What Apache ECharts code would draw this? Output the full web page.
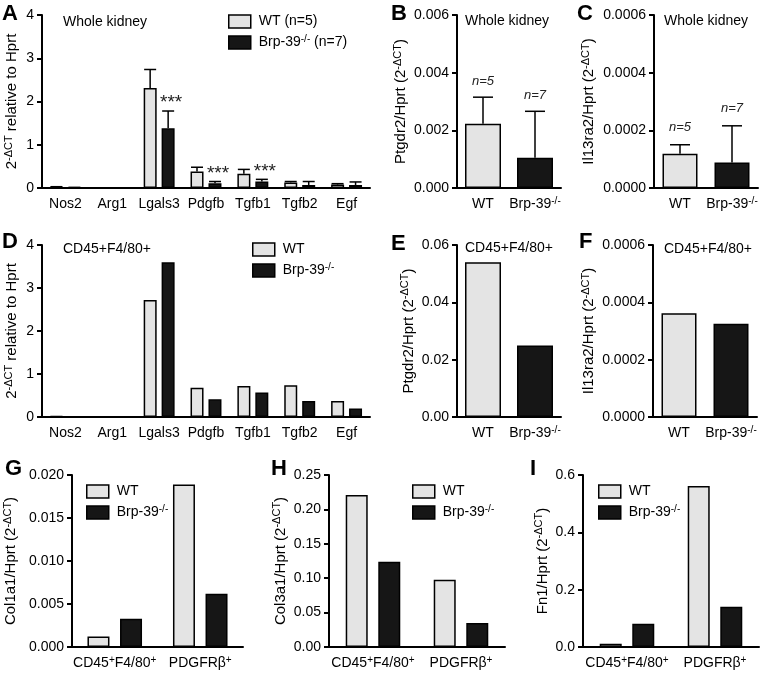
<!DOCTYPE html>
<html><head><meta charset="utf-8">
<script src="https://cdn.jsdelivr.net/npm/echarts@6/dist/echarts.min.js"></script>
<style>html,body{margin:0;padding:0;background:#fff}#c{width:762px;height:673px}</style>
</head><body><div id="c"></div>
<script>
// ---------- DATA ----------
const genes = ['Nos2','Arg1','Lgals3','Pdgfb','Tgfb1','Tgfb2','Egf'];
const A_wt    = [0.02, 0.004, 2.31, 0.38, 0.33, 0.13, 0.08];
const A_wt_sd = [0.01, 0.001, 0.43, 0.10, 0.10, 0.02, 0.02];
const A_ko    = [0.01, 0.003, 1.38, 0.11, 0.15, 0.07, 0.07];
const A_ko_sd = [0.005, 0.001, 0.40, 0.04, 0.05, 0.08, 0.07];
const A_sig   = ['', '', '***', '***', '***', '', ''];

const groups2 = ['WT', 'Brp-39^{-/-}'];
const B_vals = [0.00223, 0.00105];
const B_sd   = [0.00092, 0.00161];
const B_n    = ['n=5', 'n=7'];
const C_vals = [0.000119, 0.0000887];
const C_sd   = [0.000031, 0.000127];
const C_n    = ['n=5', 'n=7'];

const D_wt = [0.02, 0.003, 2.72, 0.68, 0.72, 0.74, 0.37];
const D_ko = [0.01, 0.002, 3.60, 0.41, 0.57, 0.37, 0.20];

const E_vals = [0.054, 0.0249];
const F_vals = [0.000362, 0.000325];

const cells = ['CD45^{+}F4/80^{+}', 'PDGFRβ^{+}'];
const G_wt = [0.00123, 0.0189];
const G_ko = [0.00328, 0.00619];
const H_wt = [0.221, 0.0977];
const H_ko = [0.124, 0.0348];
const I_wt = [0.0115, 0.562];
const I_ko = [0.081, 0.140];

const WT_NAME_A = 'WT (n=5)', KO_NAME_A = 'Brp-39^{-/-} (n=7)';
const WT_NAME = 'WT', KO_NAME = 'Brp-39^{-/-}';

// ---------- STYLE ----------
const FF = '"Liberation Sans", Arial, Helvetica, sans-serif';
const WT_C = '#e4e4e4', KO_C = '#161616';
const sup = s => s.replace(/\^\{([^}]*)\}/g, '{s|$1}');
const supRich = (fs) => ({ s: { fontSize: fs, fontFamily: FF, color: '#000', verticalAlign: 'top', lineHeight: 9 } });

const grids = [
  {left:42,  top:15,  width:328, height:173},
  {left:457, top:15,  width:104, height:173},
  {left:654, top:15,  width:104, height:173},
  {left:42,  top:245, width:328, height:172},
  {left:457, top:245, width:104, height:172},
  {left:653, top:245, width:104, height:172},
  {left:72,  top:475, width:171, height:172},
  {left:329, top:475, width:176, height:172},
  {left:583, top:475, width:176, height:172}
];

const lineS = {color:'#000', width:2};
function xAx(i, cats) {
  return {
    type:'category', gridIndex:i, data:cats,
    axisLine:{lineStyle:lineS}, axisTick:{alignWithLabel:true, length:5, lineStyle:lineS},
    axisLabel:{interval:0, color:'#000', fontSize:14, fontFamily:FF, margin:8, lineHeight:17,
      formatter: v => sup(v), rich: supRich(10)}
  };
}
function yAx(i, max, interval, dec, name, gap) {
  return {
    type:'value', gridIndex:i, min:0, max:max, interval:interval,
    splitLine:{show:false},
    axisLine:{show:true, lineStyle:lineS}, axisTick:{show:true, length:5, lineStyle:lineS},
    axisLabel:{color:'#000', fontSize:14, fontFamily:FF, margin:8, formatter: v => v.toFixed(dec)},
    name: sup(name), nameLocation:'middle', nameGap:gap, nameRotate:90,
    nameTextStyle:{color:'#000', fontSize:15, fontFamily:FF, lineHeight:18, rich: supRich(11)}
  };
}

const barStyle = c => ({color:c, borderColor:'#000', borderWidth:1.5});

function errSeries(gi, vals, sds, offset, capW, labels, labelFont, labelGap, labelDx) {
  return {
    type:'custom', xAxisIndex:gi, yAxisIndex:gi, z:5, silent:true,
    data: vals.map((v,i)=>[i, v, v + sds[i]]),
    renderItem: function(params, api) {
      const p0 = api.coord([api.value(0), api.value(1)]);
      const p1 = api.coord([api.value(0), api.value(2)]);
      const cx = p0[0] + offset;
      const ch = [
        {type:'line', shape:{x1:cx, y1:p0[1], x2:cx, y2:p1[1]}, style:{stroke:'#000', lineWidth:1.5}},
        {type:'line', shape:{x1:cx-capW/2, y1:p1[1], x2:cx+capW/2, y2:p1[1]}, style:{stroke:'#000', lineWidth:1.5}}
      ];
      const lab = labels ? labels[params.dataIndex] : '';
      if (lab) ch.push({type:'text', x:cx + (labelDx||0), y:p1[1]-labelGap,
        style:{text:lab, fill:'#222', font:labelFont, textAlign:'center', textVerticalAlign:'middle'}});
      return {type:'group', children:ch};
    }
  };
}

function legendCfg(left, top, names) {
  return {
    orient:'vertical', left:left, top:top, padding:0, itemWidth:22, itemHeight:13, itemGap:4,
    icon:'rect', data:names, selectedMode:false,
    itemStyle:{borderColor:'#000', borderWidth:1.5},
    formatter: n => sup(n),
    textStyle:{color:'#000', fontSize:14, fontFamily:FF, lineHeight:17, padding:[0,0,0,3], rich: supRich(10)}
  };
}

const txt = (left, top, t, font) => ({type:'text', left:left, top:top, style:{text:t, font:font, fill:'#000'}});
const LET = 'bold 22px ' + FF, SUB = '14px ' + FF;

const option = {
  animation:false,
  grid: grids,
  xAxis: [xAx(0,genes), xAx(1,groups2), xAx(2,groups2), xAx(3,genes), xAx(4,groups2), xAx(5,groups2),
          xAx(6,cells), xAx(7,cells), xAx(8,cells)],
  yAxis: [
    yAx(0, 4, 1, 0, '2^{-ΔCT} relative to Hprt', 21),
    yAx(1, 0.006, 0.002, 3, 'Ptgdr2/Hprt (2^{-ΔCT})', 47),
    yAx(2, 0.0006, 0.0002, 4, 'Il13ra2/Hprt (2^{-ΔCT})', 56),
    yAx(3, 4, 1, 0, '2^{-ΔCT} relative to Hprt', 21),
    yAx(4, 0.06, 0.02, 2, 'Ptgdr2/Hprt (2^{-ΔCT})', 39),
    yAx(5, 0.0006, 0.0002, 4, 'Il13ra2/Hprt (2^{-ΔCT})', 55),
    yAx(6, 0.02, 0.005, 3, 'Col1a1/Hprt (2^{-ΔCT})', 52),
    yAx(7, 0.25, 0.05, 2, 'Col3a1/Hprt (2^{-ΔCT})', 37),
    yAx(8, 0.6, 0.2, 1, 'Fn1/Hprt (2^{-ΔCT})', 31)
  ],
  legend: [
    legendCfg(228, 13, [WT_NAME_A, KO_NAME_A]),
    legendCfg(252, 241, [WT_NAME, KO_NAME]),
    legendCfg(86, 483, [WT_NAME, KO_NAME]),
    legendCfg(412, 483, [WT_NAME, KO_NAME]),
    legendCfg(598, 483, [WT_NAME, KO_NAME])
  ],
  series: [
    {type:'bar', name:WT_NAME_A, xAxisIndex:0, yAxisIndex:0, data:A_wt, barWidth:13, barGap:'38%', itemStyle:barStyle(WT_C)},
    {type:'bar', name:KO_NAME_A, xAxisIndex:0, yAxisIndex:0, data:A_ko, barWidth:13, barGap:'38%', itemStyle:barStyle(KO_C)},
    errSeries(0, A_wt, A_wt_sd, -9, 12, null),
    errSeries(0, A_ko, A_ko_sd, 9, 12, A_sig, '19px ' + FF, 8, 3),

    {type:'bar', xAxisIndex:1, yAxisIndex:1, barWidth:36,
      data:B_vals.map((v,i)=>({value:v, itemStyle:barStyle(i?KO_C:WT_C)}))},
    errSeries(1, B_vals, B_sd, 0, 20, B_n, 'italic 13px ' + FF, 16),

    {type:'bar', xAxisIndex:2, yAxisIndex:2, barWidth:35,
      data:C_vals.map((v,i)=>({value:v, itemStyle:barStyle(i?KO_C:WT_C)}))},
    errSeries(2, C_vals, C_sd, 0, 20, C_n, 'italic 13px ' + FF, 17),

    {type:'bar', name:WT_NAME, xAxisIndex:3, yAxisIndex:3, data:D_wt, barWidth:13, barGap:'38%', itemStyle:barStyle(WT_C)},
    {type:'bar', name:KO_NAME, xAxisIndex:3, yAxisIndex:3, data:D_ko, barWidth:13, barGap:'38%', itemStyle:barStyle(KO_C)},

    {type:'bar', xAxisIndex:4, yAxisIndex:4, barWidth:36,
      data:E_vals.map((v,i)=>({value:v, itemStyle:barStyle(i?KO_C:WT_C)}))},
    {type:'bar', xAxisIndex:5, yAxisIndex:5, barWidth:35,
      data:F_vals.map((v,i)=>({value:v, itemStyle:barStyle(i?KO_C:WT_C)}))},

    {type:'bar', name:WT_NAME, xAxisIndex:6, yAxisIndex:6, data:G_wt, barWidth:22, barGap:'48%', itemStyle:barStyle(WT_C)},
    {type:'bar', name:KO_NAME, xAxisIndex:6, yAxisIndex:6, data:G_ko, barWidth:22, barGap:'48%', itemStyle:barStyle(KO_C)},
    {type:'bar', name:WT_NAME, xAxisIndex:7, yAxisIndex:7, data:H_wt, barWidth:22, barGap:'48%', itemStyle:barStyle(WT_C)},
    {type:'bar', name:KO_NAME, xAxisIndex:7, yAxisIndex:7, data:H_ko, barWidth:22, barGap:'48%', itemStyle:barStyle(KO_C)},
    {type:'bar', name:WT_NAME, xAxisIndex:8, yAxisIndex:8, data:I_wt, barWidth:22, barGap:'48%', itemStyle:barStyle(WT_C)},
    {type:'bar', name:KO_NAME, xAxisIndex:8, yAxisIndex:8, data:I_ko, barWidth:22, barGap:'48%', itemStyle:barStyle(KO_C)}
  ],
  graphic: [
    txt(2, 3, 'A', LET), txt(391, 3, 'B', LET), txt(577, 3, 'C', LET),
    txt(2, 231, 'D', LET), txt(391, 233, 'E', LET), txt(579, 231, 'F', LET),
    txt(5, 458, 'G', LET), txt(271, 458, 'H', LET), txt(530, 458, 'I', LET),
    txt(63, 15, 'Whole kidney', SUB), txt(465, 14, 'Whole kidney', SUB), txt(664, 14, 'Whole kidney', SUB),
    txt(63, 242, 'CD45+F4/80+', SUB), txt(465, 241, 'CD45+F4/80+', SUB), txt(664, 242, 'CD45+F4/80+', SUB)
  ]
};

const chart = echarts.init(document.getElementById('c'), null, {renderer:'canvas'});
chart.setOption(option);
</script>
</body></html>
